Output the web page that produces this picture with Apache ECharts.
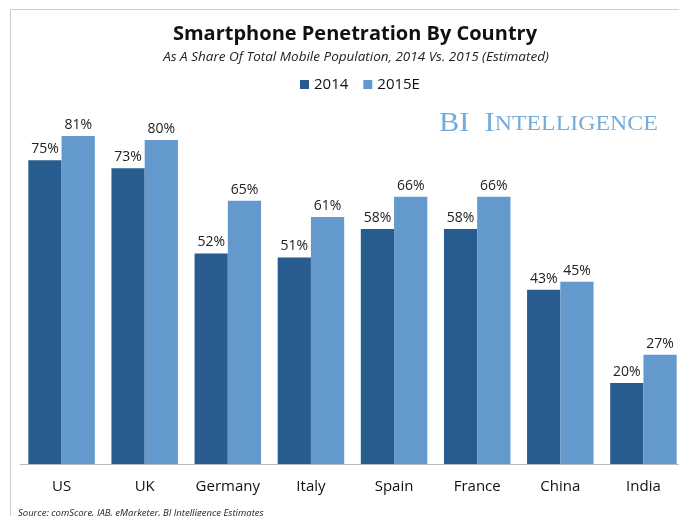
<!DOCTYPE html>
<html>
<head>
<meta charset="utf-8">
<script src="https://cdn.jsdelivr.net/npm/echarts@6/dist/echarts.min.js"></script>
<style>
  html, body { margin: 0; padding: 0; background: #fff; }
  #chart { width: 679px; height: 516px; }
</style>
</head>
<body>
<div id="chart"></div>
<script>
// data
var countries = ['US', 'UK', 'Germany', 'Italy', 'Spain', 'France', 'China', 'India'];
var share2014 = [75, 73, 52, 51, 58, 58, 43, 20];
var share2015 = [81, 80, 65, 61, 66, 66, 45, 27];

var darkBlue = '#285b8e';
var lightBlue = '#6399cd';
var font = '"Open Sans", "Liberation Sans", sans-serif';

var myChart = echarts.init(document.getElementById('chart'));
var option = {
    animation: false,
    title: [
        {
            text: 'Smartphone Penetration By Country',
            left: 350, top: 19, textAlign: 'center',
            textStyle: { fontFamily: font, fontSize: 20, fontWeight: 'bold', color: '#111' }
        },
        {
            text: 'As A Share Of Total Mobile Population, 2014 Vs. 2015 (Estimated)',
            left: 351, top: 45, textAlign: 'center',
            textStyle: { fontFamily: font, fontSize: 13.5, fontStyle: 'italic', fontWeight: 'normal', color: '#222' }
        },
        {
            text: 'Source: comScore, IAB, eMarketer, BI Intelligence Estimates',
            left: 13, top: 503,
            textStyle: { fontFamily: font, fontSize: 9.5, fontStyle: 'italic', fontWeight: 'normal', color: '#222' }
        }
    ],
    legend: {
        left: 295, top: 72,
        itemWidth: 9, itemHeight: 9, itemGap: 15,
        icon: 'rect',
        textStyle: { fontFamily: font, fontSize: 15, color: '#111' },
        data: ['2014', '2015E']
    },
    graphic: [
        { type: 'line', shape: { x1: 10, y1: 9.5, x2: 679, y2: 9.5 }, style: { stroke: '#ccc', lineWidth: 1 } },
        { type: 'line', shape: { x1: 10.5, y1: 9, x2: 10.5, y2: 516 }, style: { stroke: '#ccc', lineWidth: 1 } },
        {
            type: 'text', x: 439, y: 110, scaleX: 1.085,
            style: {
                text: '{a|BI  I}{b|NTELLIGENCE}',
                rich: {
                    a: { fontFamily: '"Liberation Serif", serif', fontSize: 28, fill: '#74acdc' },
                    b: { fontFamily: '"Liberation Serif", serif', fontSize: 22, fill: '#74acdc' }
                }
            }
        }
    ],
    grid: { left: 20, width: 665, top: 59, bottom: 52, outerBoundsMode: 'none' },
    xAxis: {
        type: 'category',
        data: countries,
        axisLine: { lineStyle: { color: '#bbb' } },
        axisTick: { length: 6, lineStyle: { color: '#bbb' } },
        axisLabel: { interval: 0, fontFamily: font, fontSize: 15, color: '#111', margin: 15 }
    },
    yAxis: {
        type: 'value', min: 0, max: 100,
        show: false,
        splitLine: { show: false }
    },
    series: [
        {
            name: '2014', type: 'bar', data: share2014,
            barGap: 0, barCategoryGap: '20%',
            itemStyle: { color: darkBlue },
            label: { show: true, position: 'top', formatter: '{c}%', fontFamily: font, fontSize: 14, color: '#222', distance: 4 }
        },
        {
            name: '2015E', type: 'bar', data: share2015,
            itemStyle: { color: lightBlue },
            label: { show: true, position: 'top', formatter: '{c}%', fontFamily: font, fontSize: 14, color: '#222', distance: 4 }
        }
    ]
};
myChart.setOption(option);
</script>
</body>
</html>
